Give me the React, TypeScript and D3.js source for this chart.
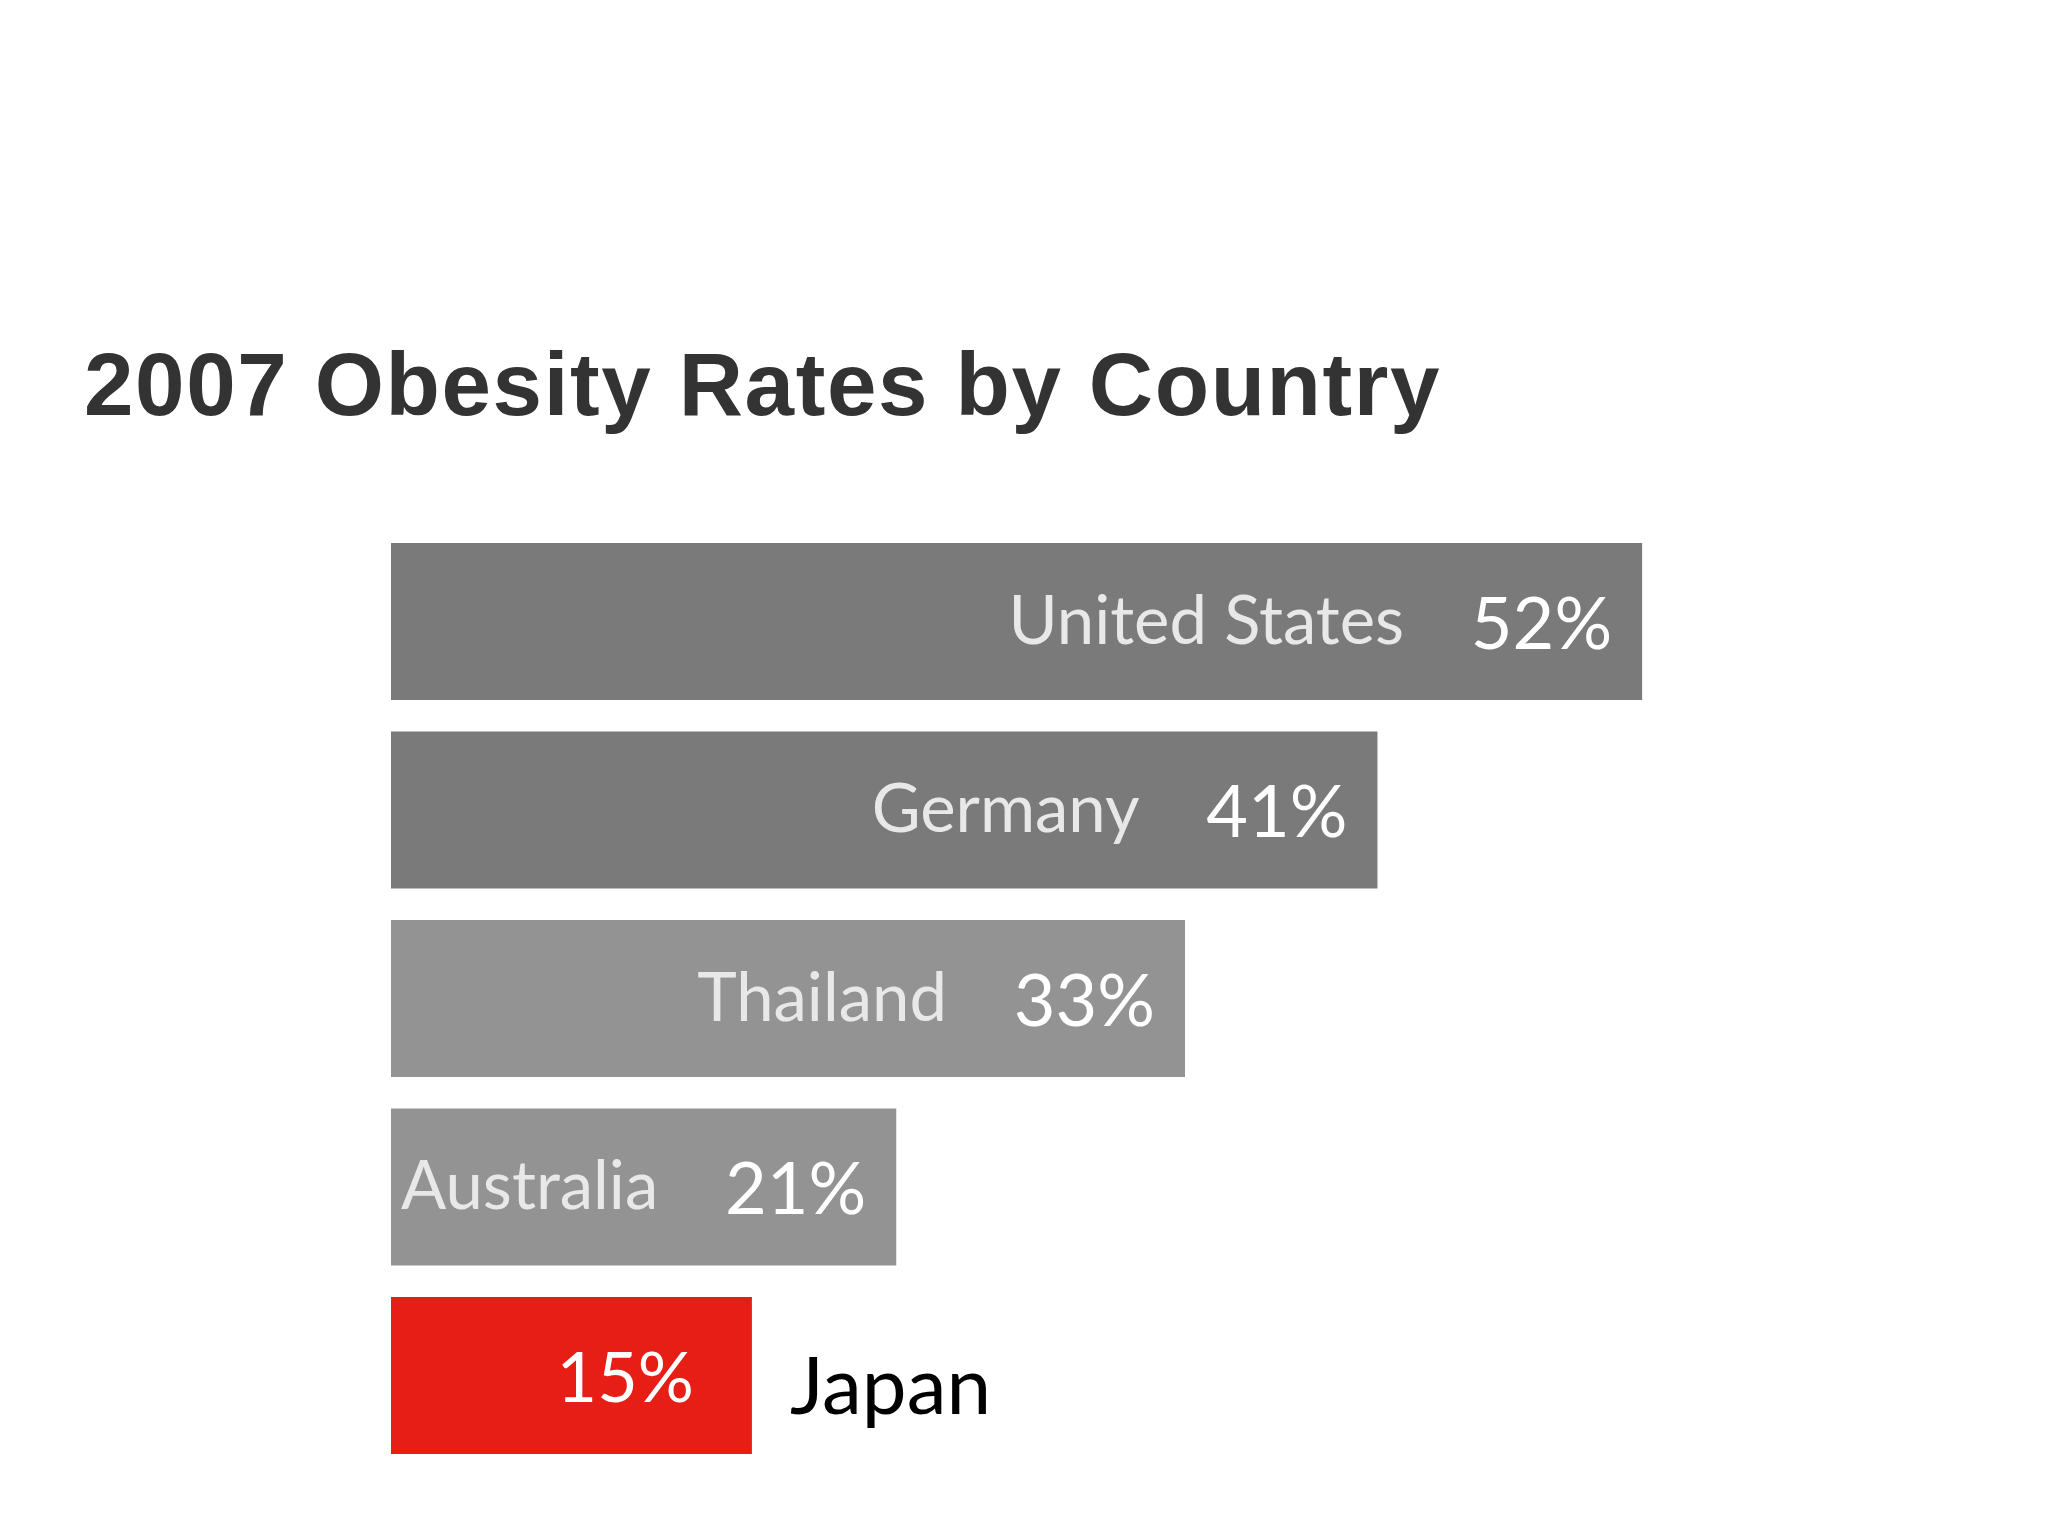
import React from "react";
import * as d3 from "d3";

const countries = ["United States", "Germany", "Thailand", "Australia", "Japan"];
const rates = [52, 41, 33, 21, 15];
const barColors = ["#7a7a7a", "#7a7a7a", "#939393", "#939393", "#e61e16"];
const titleText = "2007 Obesity Rates by Country";

const W = 2048;
const H = 1536;
const LABEL_FONT = "Lato, 'Open Sans', sans-serif";

export default function App() {
  const x = d3.scaleLinear().domain([0, 100]).range([391, 391 + 2406]);
  const y = d3
    .scaleBand<string>()
    .domain(countries)
    .range([543, 543 + 5 * 188.5 - 31.5])
    .paddingInner(31.5 / 188.5)
    .paddingOuter(0);

  const data = countries.map((c, i) => ({ c, v: rates[i], col: barColors[i] }));
  const last = data.length - 1;

  return (
    <svg
      width={W}
      height={H}
      style={{ position: "absolute", left: 0, top: 0, background: "#fff" }}
    >
      <text
        x={84}
        y={415}
        fontFamily="'Liberation Sans', Arial, sans-serif"
        fontWeight="bold"
        fontSize={89}
        letterSpacing={1.6}
        fill="#333333"
      >
        {titleText}
      </text>
      {data.map((d, i) => {
        const y0 = y(d.c)!;
        const bh = y.bandwidth();
        const cy = y0 + bh / 2;
        const x1 = x(d.v);
        if (i === last) {
          return (
            <g key={d.c}>
              <rect x={x(0)} y={y0} width={x1 - x(0)} height={bh} fill={d.col} />
              <text
                x={x1 - 58}
                y={cy + 26}
                textAnchor="end"
                fontFamily={LABEL_FONT}
                fontSize={70}
                fill="#ffffff"
              >
                {d.v}%
              </text>
              <text
                x={x1 + 38}
                y={cy + 38}
                fontFamily={LABEL_FONT}
                fontSize={80}
                fill="#000000"
              >
                {d.c}
              </text>
            </g>
          );
        }
        return (
          <g key={d.c}>
            <rect x={x(0)} y={y0} width={x1 - x(0)} height={bh} fill={d.col} />
            <text
              x={x1 - 30}
              y={cy + 27}
              textAnchor="end"
              fontFamily={LABEL_FONT}
              fontSize={72}
              fill="#ffffff"
            >
              {d.v}%
            </text>
            <text
              x={x1 - 238}
              y={cy + 22}
              textAnchor="end"
              fontFamily={LABEL_FONT}
              fontSize={67}
              fill="#e8e8e8"
            >
              {d.c}
            </text>
          </g>
        );
      })}
    </svg>
  );
}
